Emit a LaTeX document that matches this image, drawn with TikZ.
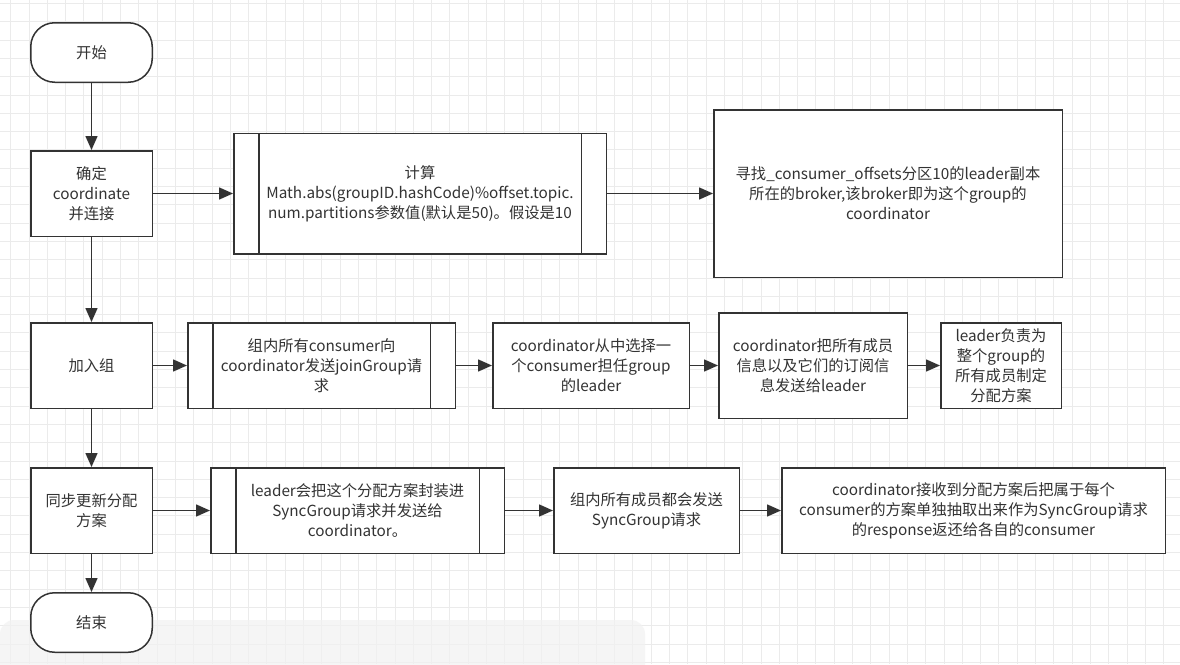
\documentclass[tikz,border=0pt]{standalone}
\usepackage{fontspec}
\setmainfont{Noto Sans CJK SC}
\usetikzlibrary{positioning,arrows.meta}
\definecolor{ink}{HTML}{333333}
\definecolor{gridc}{HTML}{EBEBEB}

\begin{document}
\begin{tikzpicture}[
  x=1pt, y=-1pt,
  font=\fontsize{15.3}{20}\selectfont,
  base/.style={draw=ink, line width=1.5pt, text=ink, align=center, inner sep=2pt, fill=white},
  box/.style={base, minimum height=85.5pt},
  term/.style={base, rounded corners=24pt, minimum width=121.5pt, minimum height=59.5pt},
  sub/.style={box, path picture={
      \draw[ink, line width=1.5pt] ([xshift=25pt]path picture bounding box.north west) -- ([xshift=25pt]path picture bounding box.south west);
      \draw[ink, line width=1.5pt] ([xshift=-25pt]path picture bounding box.north east) -- ([xshift=-25pt]path picture bounding box.south east);}},
  arr/.style={draw=ink, line width=1.5pt, -{Triangle[length=14pt,width=12pt]}}
]
\useasboundingbox (0,0) rectangle (1180,664);
\fill[white] (0,0) rectangle (1180,664);
\foreach \i in {0,...,64} \draw[gridc, line width=0.8pt] ({10.6+18.3*\i},0) -- ++(0,664);
\foreach \j in {0,...,36} \draw[gridc, line width=0.8pt] (0,{3.4+18.3*\j}) -- ++(1180,0);
\fill[gray!10, opacity=0.7, rounded corners=14pt] (0,620) rectangle (645,690);

\node[term] (start) at (91.5,52.5) {开始};
\node[box, minimum width=121.5pt, below=67pt of start] (conn) {确定\\coordinate\\并连接};
\node[sub, minimum width=372.5pt, minimum height=120.5pt, right=80pt of conn] (calc) {计算\\Math.abs(groupID.hashCode)\%offset.topic.\\num.partitions参数值(默认是50)。假设是10};
\node[box, minimum width=348.5pt, minimum height=167.5pt, right=106pt of calc] (find) {寻找\_consumer\_offsets分区10的leader副本\\所在的broker,该broker即为这个group的\\coordinator};

\node[box, minimum width=121.5pt, below=85pt of conn] (join) {加入组};
\node[sub, minimum width=267.5pt, right=34pt of join] (send) {组内所有consumer向\\coordinator发送joinGroup请\\求};
\node[box, minimum width=196.5pt, right=36pt of send] (choose) {coordinator从中选择一\\个consumer担任group\\的leader};
\node[box, minimum width=188.5pt, minimum height=105.5pt, right=28pt of choose] (info) {coordinator把所有成员\\信息以及它们的订阅信\\息发送给leader};
\node[box, minimum width=120.5pt, right=32pt of info] (plan) {leader负责为\\整个group的\\所有成员制定\\分配方案};

\node[box, minimum width=121.5pt, below=58pt of join] (sync) {同步更新分配\\方案};
\node[sub, minimum width=293.5pt, right=57pt of sync] (pack) {leader会把这个分配方案封装进\\SyncGroup请求并发送给\\coordinator。};
\node[box, minimum width=185.5pt, right=48pt of pack] (all) {组内所有成员都会发送\\SyncGroup请求};
\node[box, minimum width=383.5pt, right=41pt of all] (resp) {coordinator接收到分配方案后把属于每个\\consumer的方案单独抽取出来作为SyncGroup请求\\的response返还给各自的consumer};
\node[term, below=38pt of sync] (stop) {结束};

\draw[arr] (start) -- (conn);
\draw[arr] (conn) -- (calc);
\draw[arr] (calc) -- (find);
\draw[arr] (conn) -- (join);
\draw[arr] (join) -- (send);
\draw[arr] (send) -- (choose);
\draw[arr] (choose) -- (info);
\draw[arr] (info) -- (plan);
\draw[arr] (join) -- (sync);
\draw[arr] (sync) -- (pack);
\draw[arr] (pack) -- (all);
\draw[arr] (all) -- (resp);
\draw[arr] (sync) -- (stop);
\end{tikzpicture}
\end{document}
